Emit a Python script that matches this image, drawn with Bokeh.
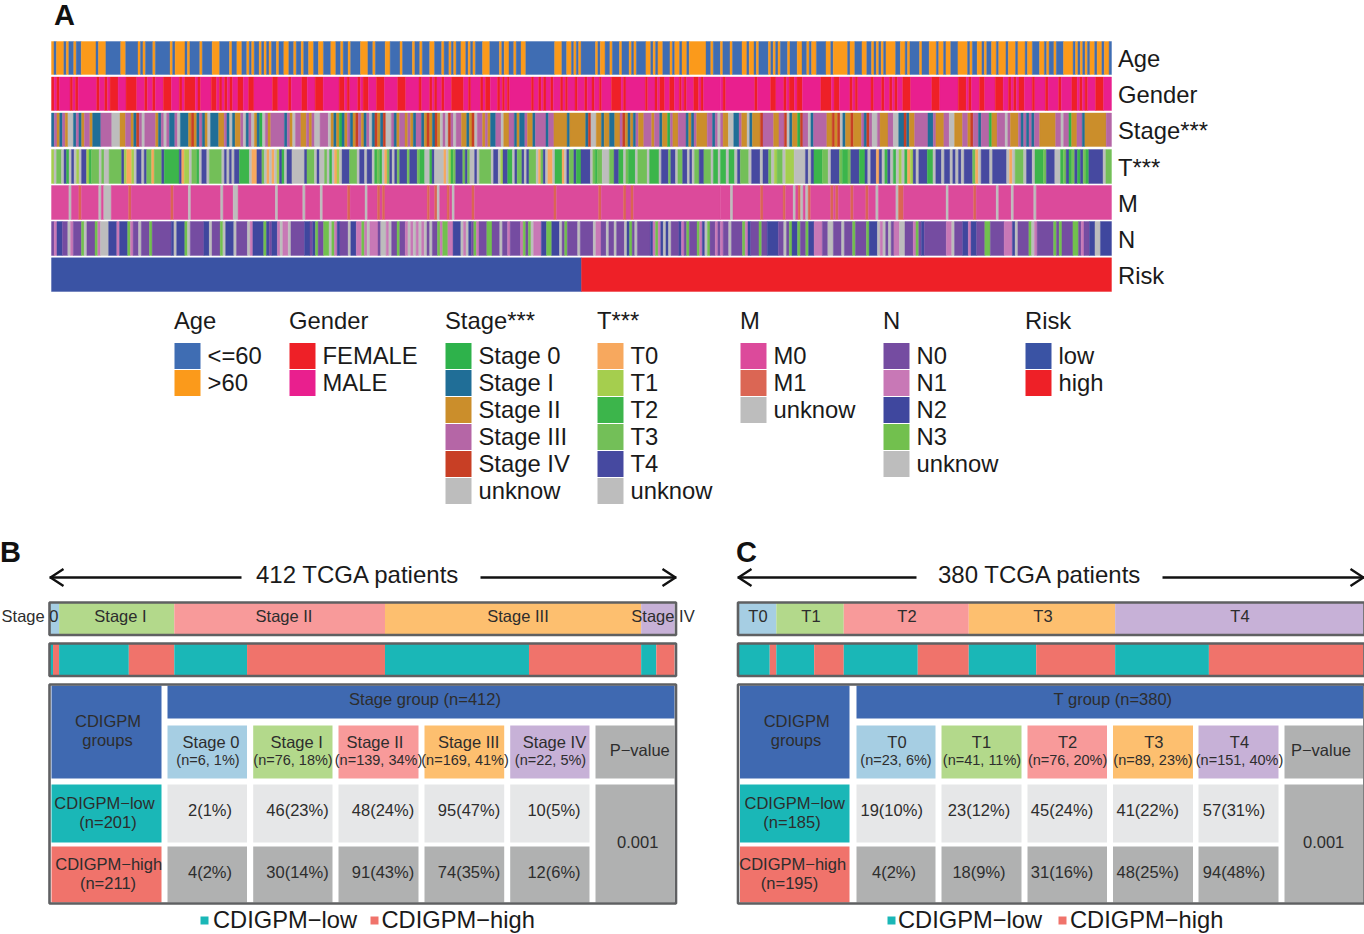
from bokeh.plotting import figure
from bokeh.models import Range1d
from bokeh.core.properties import value
from bokeh.embed import file_html
from bokeh.resources import INLINE

# ---------- data: heat-map tracks, run-length reading per part of the strip ----------
age_a = "O1 B1 O3 B1 O1 B2 O1 B2 O6 B1 O3 B6 O2 B5 O1 B1 O1 B3 O1 B6 O1 B1 O4 B1 O1 B4 O1 B4 O3 B4 O1 B2 O2 B2 O1 B1 O1 B2 O1 B1 O1 B1 O1 B2 O1 B2 O2 B2 O1 B2 O1 B2 O2 B2 O2 B3 O2 B2 O1 B2 O1 B4 O3 B2 O1 B4 O2 B4 O1 B4 O1 B2 O1 B3"
age_b = "O2 B3 O1 B2 O1 B1 O1 B2 O2 B1 O1 B1 O1 B3 O3 B4 O1 B1 O2 B2 O1 B2 O2 B12 O3 B2 O2 B1 O1 B1 O1 B6 O1 B1 O2 B2 O1 B3 O1 B3 O1 B1 O1 B4 O2 B1 O1 B1 O2 B3 O1 B1 O2 B1 O2 B1 O7 B2 O1 B3"
age_c = "O1 B3 O1 B4 O2 B1 O2 B1 O1 B4 O1 B1 O1 B1 O1 B3 O1 B3 O2 B2 O1 B1 O2 B4 O2 B1 O6 B1 O2 B3 O2 B2 O1 B1 O1 B1 O1 B1 O4 B2 O2 B1 O1 B4 O1 B3 O3 B1 O2 B1 O2 B3 O4 B1 O1 B2 O2 B1 O1 B2 O2 B1 O3 B1 O3 B1 O3 B1 O2 B3 O2 B1 O1 B2 O1 B3 O4 B1 O1 B1 O1 B1 O1 B1 O2 B1 O2 B1 O2 B1"
gender_a = "F1 M1 F1 M4 F1 M1 F1 M7 F1 M2 F1 M1 F3 M3 F4 M3 F1 M2 F1 M3 F3 M3 F1 M1 F4 M1 F1 M4 F2 M1 F1 M1 F1 M1 F1 M2 F2 M2 F2 M7 F2 M4 F1 M4 F2 M3 F3 M6 F2 M1 F1 M3 F1 M1 F2 M3 F3 M5 F3 M5 F1 M3"
gender_b = "F1 M1 F1 M2 F1 M3 F5 M2 F1 M4 F1 M1 F2 M3 F1 M1 F1 M1 F1 M9 F1 M2 F1 M1 F1 M2 F1 M3 F1 M1 F1 M3 F1 M3 F1 M2 F1 M2 F1 M4 F4 M1 F1 M8 F1 M3 F1 M1 F2 M2 F2 M2 F1 M1 F1 M3 F2 M1 F1 M7"
gender_c = "M1 F1 M11 F1 M5 F2 M3 F1 M1 F2 M1 F2 M7 F4 M1 F2 M4 F1 M1 F1 M5 F1 M3 F1 M2 F1 M1 F1 M2 F3 M8 F3 M7 F3 M1 F1 M3 F2 M4 F3 M2 F1 M1 F1 M1 F2 M3 F1 M4 F1 M4 F1 M4 F2 M1 F1 M1 F1 M3 F3 M3"
stage_a = "I1 P1 D1 I1 P1 D1 U2 I1 P1 I1 D1 P2 D1 I3 P4 U3 D2 P2 D1 I1 R1 P1 U1 P4 D1 I1 P1 U1 P1 I2 P1 U1 I3 D1 R1 D1 I1 P1 I1 D1 U1 I3 D2 P1 I1 U1 I1 D2 P1 U1 I1 P1 U1 D1 I1 Z1 U1 P1 D1 P5 I1 P1 D1 U1 P2 D2 P1 D1 P1 U2 P3 U1 D1 I1 D1 Z1 I1 D1 P1 I1 D1 R1 P1 D1 I1 P1 U1 I1 R1 D1 I1 R1 U2 P1 I1 D1 P2 D1 P1 D1 I1 P2 I1 D1 R1"
stage_b = "D1 I1 R1 D1 U1 P1 U1 R1 P1 U1 P2 D2 I1 D1 R1 U1 P2 D1 P1 D1 I2 P2 U1 D2 P2 I1 D1 I2 P1 D2 I1 P4 I1 P2 D5 I1 D6 I1 R1 U2 D2 I1 D2 I2 D2 P1 R1 D1 I1 D1 I1 P1 D2 P3 D1 P2 I1 D2 Z1 P1 D2 P3 I1 D1 I1 P1 D4 P2 I1 P1 U1"
stage_c = "P1 D2 U2 I2 P1 D2 U1 I1 D3 R1 P4 D2 P2 R1 U1 I1 D2 Z1 R1 P2 U1 I1 P5 D2 R1 D1 R1 U1 I1 D2 R1 D3 P1 I1 R1 P1 U2 P1 D3 P2 U2 I2 R1 I1 D2 P5 I2 P1 D3 P2 U2 D3 P2 D1 R1 P2 I1 P3 Z1 D2 P3 U1 P1 D3 P1 I1 P1 I1 P1 I1 P2 D6 P2 U1 P2 Z1 D2 P2 I1 D8 P2"
t_a = "B1 U1 D2 U1 E1 C1 U1 E1 U1 B1 U1 E2 B1 C1 D3 U1 D1 U2 D5 E1 B1 A2 B1 U1 E2 U1 E1 D2 A1 D3 E1 C6 E1 A1 B2 U1 D2 C1 U1 E2 U1 D5 U1 E1 U1 E1 U1 E2 C4 U1 A2 E2 D1 U1 A1 U1 A1 U1 B1 E1 C1 U1 E2 U5 E1 D3 U1 E1 U2 D1 U1 C1 U1 A1 B1 U1 E3 D3 U1 E2 U1 E2 U1 C1 D1 C1 U1 A1 D1 E1 U1 E1 D1 E3 D1 E3 D1 C2 U2"
t_b = "C1 E1 U4 A1 U1 B1 C1 D1 E3 D1 E1 D1 U2 E1 U1 D5 U1 E2 U1 B1 E2 C2 U1 E1 D2 E1 U1 E1 D3 U1 A1 D1 E1 U1 A2 U1 C3 A1 U1 E1 D2 E1 C2 E4 U1 D1 C1 D2 U3 D2 E2 C2 U1 D1 C3 U1 D4 U1 C4 U1 E3 D1 E2 U1 D2 E2 U1 E1 U1 D2 E2 D3 U1 C2 U1"
t_c = "C2 U1 C2 U1 E1 D3 U1 E3 U1 E2 D1 U1 B1 D2 U1 B3 U4 E1 U1 E1 C3 D2 U1 E3 D1 C2 D1 E3 C2 E1 U1 E2 A1 E1 U1 C1 E1 U1 C1 U1 B1 U1 C1 A1 B1 E1 U1 E3 C2 U1 E2 U1 E2 U1 E1 U1 E1 U1 E3 D1 A1 U1 E3 U1 E5 U1 A1 U1 D3 U1 E2 U1 C3 D1 E3 U2 C1 D1 E1 C1 D1 E1 C1 E1 D1 C1 E5 U1 D2"
m_a = "H7 U1 H3 L1 H7 U1 H1 U3 H7 L1 H16 L1 H6 U1 H12 U1 H4 U2 H15 U1 H10 U1 H6 U1 H10 L1 H6 U1 H4 L1 H1 L1 H17 L1"
m_b = "H2 L1 U1 H3 L1 H1 U1 H7 L1 H32 L1 H17 L1 H9 L1 H2 L1 H35"
m_c = "H4 U1 H11 L1 H8 L1 H3 U1 H1 L1 U1 H1 U1 L1 H8 L1 H1 L1 H5 L1 H5 L1 H3 U1 H7 U1 L2 H17 U1 H10 L1 H8 U1 H5 U1 H8 U1 H30"
n_a = "K1 L1 H2 K2 U1 L1 K3 G1 U1 K3 G1 L1 U3 H3 L1 H3 G1 L1 K2 U1 K3 G1 K7 H1 U1 H3 G1 U1 K5 H2 U1 K3 G1 U1 H3 U1 K4 U1 L1 H4 G1 H1 K1 H2 L1 U1 L2 U1 K5 H2 K1 H1 G1 K2 G2 U1 G1 L1 H1 K3 U1 H2 L2 G1 L1 U1 L3 K1 U2 L1 U1 K2 G1 K2 L1 U1 L1 U1 L1 U1 L1 U1 K1"
n_b = "U1 K2 G1 L1 G2 L2 H3 U1 L1 U1 H1 K1 G1 L1 K3 G2 K3 U1 K2 L1 K4 L1 G1 K1 G1 U1 L3 H2 G2 H3 U1 K1 G1 K4 U1 K5 U1 L2 K2 U1 K2 U1 K3 U1 H1 G1 K1 U1 K5 H1 L1 G1 L1 H1 U1 H1 U1 K3 H1 L1 K1 G1 K3 G1 L1 H1 U1 G1 K2 L1 K1"
n_c = "L1 K2 U1 K4 G1 L1 H1 K3 G1 K2 H4 K2 U1 K1 G1 H2 G1 K2 G1 H2 L3 K2 U2 K3 U1 K3 G1 K4 G1 H3 U1 L1 U1 K1 U1 K1 L2 U2 K3 L1 G1 K1 H1 K8 L2 U1 K3 H2 L1 H2 K3 G2 K5 L3 H1 U1 K4 G1 U1 L1 K6 G1 K1 G1 K4 G2 K1 L1 K2 H2 U2 H4"
risk_runs = "L206 H206"
patients_a = 412
part_edges = [0, 147, 260, 412]

track_names = ["Age", "Gender", "Stage***", "T***", "M", "N", "Risk"]

# panel B data
stage_names = ["Stage 0", "Stage I", "Stage II", "Stage III", "Stage IV"]
stage_n = [6, 76, 139, 169, 22]
stage_pct = [1, 18, 34, 41, 5]
stage_low = [2, 46, 48, 95, 10]
stage_low_pct = [1, 23, 24, 47, 5]
stage_high = [4, 30, 91, 74, 12]
stage_high_pct = [2, 14, 43, 35, 6]
# panel C data
t_names = ["T0", "T1", "T2", "T3", "T4"]
t_n = [23, 41, 76, 89, 151]
t_pct = [6, 11, 20, 23, 40]
t_low = [19, 23, 45, 41, 57]
t_low_pct = [10, 12, 24, 22, 31]
t_high = [4, 18, 31, 48, 94]
t_high_pct = [2, 9, 16, 25, 48]

# ---------- palette ----------
AGE = {"B": "#3F6DB3", "O": "#FB9A1B"}
GEN = {"F": "#EE2027", "M": "#E91F8E"}
STG = {"Z": "#2EB24B", "I": "#206E97", "D": "#CB8E2B", "P": "#B566A6", "R": "#C83F25", "U": "#BDBDBD"}
TCL = {"A": "#F7A85E", "B": "#A5CE4E", "C": "#3CB54B", "D": "#73BF58", "E": "#4649A0", "U": "#BDBDBD"}
MCL = {"H": "#DC4A9B", "L": "#DB6654", "U": "#BDBDBD"}
NCL = {"K": "#754CA1", "L": "#C878B6", "H": "#3F479E", "G": "#72C04E", "U": "#BDBDBD"}
RSK = {"L": "#3A53A4", "H": "#EE2027"}
PAIRED = ["#A6CEE3", "#B3D98B", "#F89A9A", "#FDBF6F", "#C7B1D7"]
TEAL, CORAL = "#1AB7B7", "#F0736B"
HEAD, LIGHT, DARK, EDGE = "#3F69B1", "#E6E7E8", "#B0B1B1", "#5F6062"
TXT = "#2D2D2D"
FONT = value("Liberation Sans")

W, H = 1364, 934
p = figure(width=W, height=H, x_range=Range1d(0, W), y_range=Range1d(H, 0),
           toolbar_location=None, output_backend="svg", x_axis_type=None, y_axis_type=None,
           min_border=0, outline_line_color=None, background_fill_color="white",
           border_fill_color="white")
p.grid.visible = False
p.styles = {"position": "absolute", "left": "0px", "top": "0px"}


def scale_range(name, left_px, right_px, total):
    k = (right_px - left_px) / total
    start = -left_px / k
    p.extra_x_ranges[name] = Range1d(start, start + W / k)


scale_range("A", 51, 1111, patients_a)
scale_range("B", 49.5, 674, sum(stage_n))
scale_range("C", 738, 1363, sum(t_n))


def rect(x0, x1, y0, y1, color):
    p.quad(left=[x0], right=[x1], top=[y0], bottom=[y1], fill_color=color, line_color=None)


def frame(x0, x1, y0, y1):
    p.quad(left=[x0], right=[x1], top=[y0], bottom=[y1], fill_color=None,
           line_color=EDGE, line_width=2.6)


def txt(x, y, s, size=16.5, align="center", color=TXT, style="normal"):
    p.text(x=[x - 0.5], y=[y - 1], text=[s], text_font=FONT, text_font_size=f"{size}px", text_align=align,
           text_baseline="middle", text_color=color, text_font_style=style)


def parse(runs):
    return [(r[0], int(r[1:])) for r in runs.split()]


def draw_track(parts, edges, palette, y0, y1):
    lefts, rights, colors = [], [], []
    for i, part in enumerate(parts):
        runs = parse(part)
        total = sum(n for _, n in runs)
        k = (edges[i + 1] - edges[i]) / total
        pos = edges[i]
        for c, n in runs:
            lefts.append(pos)
            pos += n * k
            rights.append(pos)
            colors.append(palette[c])
    p.quad(left=lefts, right=rights, top=[y0] * len(lefts), bottom=[y1] * len(lefts),
           fill_color=colors, line_color=colors, line_width=0.4, x_range_name="A")


# ---------- panel A ----------
track_y = [(41, 74), (76.5, 110), (112.5, 146), (149, 183), (185, 219), (221, 255), (257.3, 291)]
track_data = [([age_a, age_b, age_c], AGE), ([gender_a, gender_b, gender_c], GEN),
              ([stage_a, stage_b, stage_c], STG), ([t_a, t_b, t_c], TCL),
              ([m_a, m_b, m_c], MCL), ([n_a, n_b, n_c], NCL)]
for (parts, pal), (y0, y1), name in zip(track_data, track_y, track_names):
    draw_track(parts, part_edges, pal, y0, y1)
    txt(1118, (y0 + y1) / 2 + 1.5, name, 23.8, "left", "#1a1a1a")
draw_track([risk_runs], [0, patients_a], RSK, *track_y[6])
txt(1118, 276, "Risk", 23.8, "left", "#1a1a1a")

legends = [
    (174, "Age", [("<=60", AGE["B"]), (">60", AGE["O"])]),
    (289, "Gender", [("FEMALE", GEN["F"]), ("MALE", GEN["M"])]),
    (445, "Stage***", [("Stage 0", STG["Z"]), ("Stage I", STG["I"]), ("Stage II", STG["D"]),
                       ("Stage III", STG["P"]), ("Stage IV", STG["R"]), ("unknow", STG["U"])]),
    (597, "T***", [("T0", TCL["A"]), ("T1", TCL["B"]), ("T2", TCL["C"]), ("T3", TCL["D"]),
                   ("T4", TCL["E"]), ("unknow", TCL["U"])]),
    (740, "M", [("M0", MCL["H"]), ("M1", MCL["L"]), ("unknow", MCL["U"])]),
    (883, "N", [("N0", NCL["K"]), ("N1", NCL["L"]), ("N2", NCL["H"]), ("N3", NCL["G"]),
                ("unknow", NCL["U"])]),
    (1025, "Risk", [("low", RSK["L"]), ("high", RSK["H"])]),
]
for lx, title, items in legends:
    txt(lx, 320.5, title, 23.8, "left", "#1a1a1a")
    for i, (lab, col) in enumerate(items):
        yc = 355.5 + 27 * i
        rect(lx, lx + 26, yc - 13, yc + 13, col)
        txt(lx + 33.5, yc + 0.5, lab, 23.8, "left", "#1a1a1a")

txt(54, 15, "A", 29, "left", "#111111", "bold")
txt(0, 552, "B", 29, "left", "#111111", "bold")
txt(736, 552, "C", 29, "left", "#111111", "bold")


# ---------- panels B, C ----------
def arrow(x_left, x_left_end, x_right_start, x_right, y=577):
    for a, b in ((x_left, x_left_end), (x_right_start, x_right)):
        p.line([a, b], [y, y], line_color="#111111", line_width=2.4)
    p.line([x_left + 14, x_left + 1, x_left + 14], [y - 8.5, y, y + 8.5], line_color="#111111", line_width=2.4)
    p.line([x_right - 14, x_right - 1, x_right - 14], [y - 8.5, y, y + 8.5], line_color="#111111", line_width=2.4)


def panel(rng, n_vals, low_vals, high_vals, x_out0, x_out1, group_x1, col_edges, p_edges,
          bar_labels, bar_centers, title, title_x, head_label, head_x, sub_c1, sub_c2, sub_l2,
          names, low_txt, high_txt, cell_c_low, cell_c_high, p_x, p_val_x,
          grp_x, lowlab, highlab):
    # cumulative bars drawn on the patient scale of this panel
    edges = [0]
    for v in n_vals:
        edges.append(edges[-1] + v)
    p.quad(left=edges[:-1], right=edges[1:], top=[602] * 5, bottom=[634] * 5, fill_color=PAIRED,
           line_color=None, x_range_name=rng)
    lefts, rights, cols = [], [], []
    for e, lo, hi in zip(edges[:-1], low_vals, high_vals):
        lefts += [e, e + lo]
        rights += [e + lo, e + lo + hi]
        cols += [TEAL, CORAL]
    p.quad(left=lefts, right=rights, top=[643] * 10, bottom=[675] * 10, fill_color=cols,
           line_color=None, x_range_name=rng)
    frame(x_out0, x_out1, 602, 634.5)
    frame(x_out0, x_out1, 643, 675.5)
    for s, x in zip(bar_labels, bar_centers):
        txt(x, 616.5, s)
    txt(title_x, 574.5, title, 24, "center", "#1a1a1a")

    # table
    x0 = x_out0 + 2
    rect(x0, group_x1, 685, 778, HEAD)
    rect(col_edges[0][0], x_out1 - 1.5, 685, 718, HEAD)
    rect(x0, group_x1, 784, 842, TEAL)
    rect(x0, group_x1, 846, 902, CORAL)
    for i, (a, b) in enumerate(col_edges):
        rect(a, b, 725, 778, PAIRED[i])
        rect(a, b, 784, 842, LIGHT)
        rect(a, b, 846, 902, DARK)
    rect(p_edges, x_out1 - 1.5, 725, 778, DARK)
    rect(p_edges, x_out1 - 1.5, 784, 902, DARK)
    frame(x_out0, x_out1, 684, 903)

    txt(grp_x[0], 721.5, "CDIGPM")
    txt(grp_x[1], 740, "groups")
    txt(head_x, 699.5, head_label)
    for i in range(5):
        txt(sub_c1[i], 742, names[i])
        txt(sub_c2[i], 760, sub_l2[i], 14.5)
        txt(cell_c_low[i], 810.5, low_txt[i])
        txt(cell_c_high[i], 872, high_txt[i])
    txt(p_x, 750.5, "P\u2212value")
    txt(p_val_x, 842.5, "0.001")
    txt(lowlab[0], 803, lowlab[2])
    txt(lowlab[1], 822, lowlab[3])
    txt(highlab[0], 864, highlab[2])
    txt(highlab[1], 883, highlab[3])


fmt = lambda n, pc: [f"{a}({b}%)" for a, b in zip(n, pc)]

arrow(49, 241, 480, 676)
panel("B", stage_n, stage_low, stage_high, 49, 675.5, 161,
      [(167, 246.5), (252.7, 332), (338, 418), (424, 503.7), (509.7, 589)], 595,
      stage_names, [30, 120.5, 284, 518, 663], "412 TCGA patients", 358,
      "Stage group (n=412)", 425,
      [211, 296.7, 375, 468.7, 554.5], [208, 293, 378.5, 465, 550.5],
      [f"(n={a}, {b}%)" for a, b in zip(stage_n, stage_pct)], stage_names,
      fmt(stage_low, stage_low_pct), fmt(stage_high, stage_high_pct),
      [210, 297.5, 383, 469, 554], [210, 297.5, 383, 469, 554], 639.7, 637.7,
      (108, 107.5), (104.5, 108, "CDIGPM\u2212low", "(n=201)"), (108.7, 108, "CDIGPM\u2212high", "(n=211)"))

arrow(737, 916, 1162, 1364)
panel("C", t_n, t_low, t_high, 737.5, 1364, 849,
      [(856, 935), (941, 1021), (1027, 1106.5), (1112.5, 1192.5), (1198, 1278)], 1284,
      t_names, [758, 811, 907, 1043, 1240], "380 TCGA patients", 1040,
      "T group (n=380)", 1113,
      [897, 981.5, 1067.6, 1153.8, 1239.5], [896, 982, 1067.6, 1153, 1239.5],
      [f"(n={a}, {b}%)" for a, b in zip(t_n, t_pct)], t_names,
      fmt(t_low, t_low_pct), fmt(t_high, t_high_pct),
      [891.7, 979, 1062, 1147.7, 1234], [894, 979, 1062, 1147.7, 1234], 1321, 1323.6,
      (796.7, 796), (794.7, 792, "CDIGPM\u2212low", "(n=185)"), (792.7, 789.5, "CDIGPM\u2212high", "(n=195)"))

for sx, tx, sx2, tx2 in ((200, 213, 370, 381.5), (887, 898, 1058, 1070)):
    rect(sx, sx + 8, 916, 924, TEAL)
    txt(tx, 920.5, "CDIGPM\u2212low", 23.7, "left", "#1a1a1a")
    rect(sx2, sx2 + 8, 916, 924, CORAL)
    txt(tx2, 920.5, "CDIGPM\u2212high", 23.7, "left", "#1a1a1a")

open("out.html", "w").write(file_html(p, INLINE))
